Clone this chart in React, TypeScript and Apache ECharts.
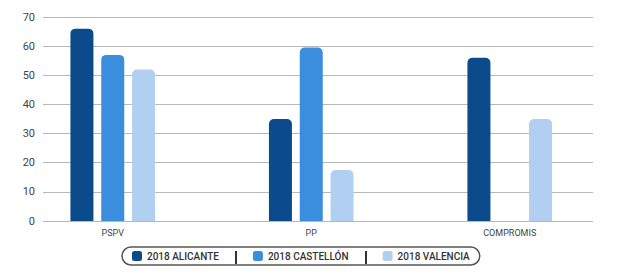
import React, { useEffect, useRef } from "react";
import * as echarts from "echarts";

const categories = ["PSPV", "PP", "COMPROMIS"];
const seriesNames = ["2018 ALICANTE", "2018 CASTELLÓN", "2018 VALENCIA"];
const alicante = [66, 35, 56];
const castellon = [57, 59.5, null];
const valencia = [52, 17.5, 35];
const yTicks = [0, 10, 20, 30, 40, 50, 60, 70];
const colors = ["#0b4a8b", "#3b8ede", "#b1cff1"];

export default function App() {
  const ref = useRef<HTMLDivElement>(null);
  useEffect(() => {
    document.body.style.margin = "0";
    const chart = echarts.init(ref.current!, null, { renderer: "svg" });
    const values = [alicante, castellon, valencia];
    chart.setOption({
      animation: false,
      textStyle: { fontFamily: "Roboto" },
      grid: [
        { left: 43, right: 31, top: 17, bottom: 56 },
        { left: 13.5, right: 15, top: 17, bottom: 56 },
      ],
      xAxis: [
        { type: "value", gridIndex: 0, show: false, min: 0, max: 1 },
        {
          type: "category",
          gridIndex: 1,
          data: categories,
          axisLine: { show: false },
          axisTick: { show: false },
          axisLabel: { fontSize: 9, color: "#444", margin: 7 },
        },
      ],
      yAxis: [
        {
          type: "value",
          gridIndex: 0,
          min: yTicks[0],
          max: yTicks[yTicks.length - 1],
          interval: 10,
          axisLine: { show: false },
          axisTick: { show: false },
          axisLabel: { fontSize: 11, color: "#444", margin: 8 },
          splitLine: { lineStyle: { color: "#b8b8b8", width: 1 } },
        },
        {
          type: "value",
          gridIndex: 1,
          min: 0,
          max: 70,
          interval: 10,
          show: false,
        },
      ],
      legend: {
        left: 122,
        top: 247,
        itemWidth: 10,
        itemHeight: 10,
        itemGap: 34,
        icon: "roundRect",
        padding: [4, 10, 4, 10],
        borderColor: "#555",
        borderWidth: 1.5,
        borderRadius: 11,
        textStyle: { fontSize: 10, color: "#333", fontWeight: 500 },
        data: seriesNames,
      },
      graphic: [
        { type: "line", shape: { x1: 236, y1: 251, x2: 236, y2: 264 }, style: { stroke: "#333", lineWidth: 2 } },
        { type: "line", shape: { x1: 366, y1: 251, x2: 366, y2: 264 }, style: { stroke: "#333", lineWidth: 2 } },
      ],
      series: seriesNames.map((name, i) => ({
        name,
        type: "bar",
        xAxisIndex: 1,
        yAxisIndex: 1,
        data: values[i],
        barWidth: 23,
        barGap: "34%",
        itemStyle: { color: colors[i], borderRadius: [5, 5, 0, 0] },
      })),
    });
    return () => chart.dispose();
  }, []);
  return <div ref={ref} style={{ width: 624, height: 277 }} />;
}
